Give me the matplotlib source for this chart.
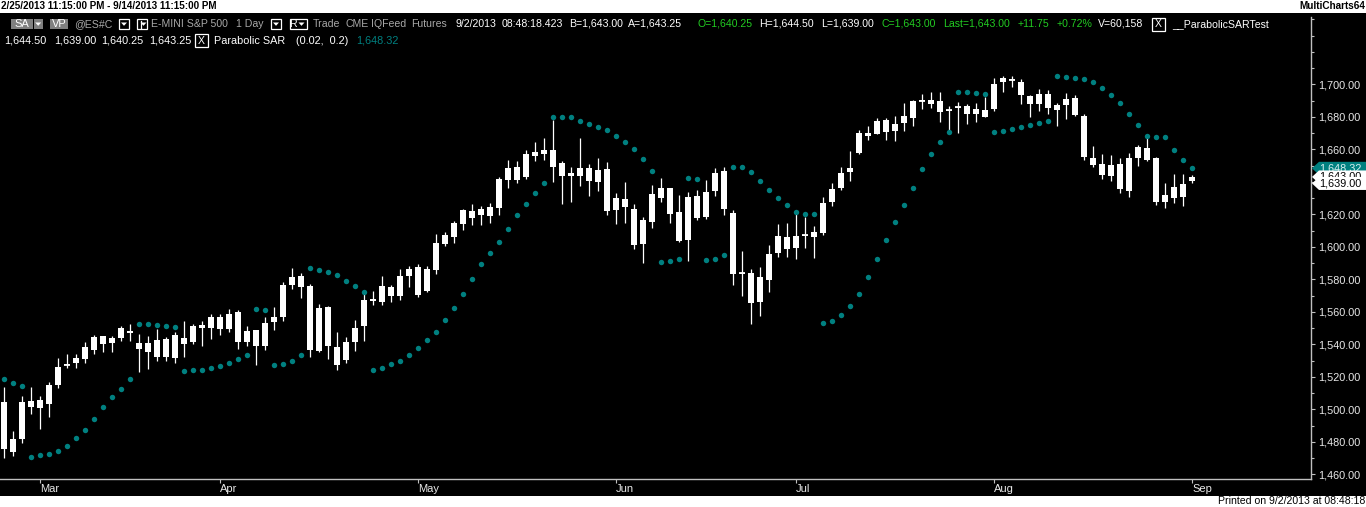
import matplotlib
matplotlib.use('Agg')
import matplotlib.pyplot as plt
from matplotlib.patches import Rectangle, Polygon
from matplotlib.ticker import MultipleLocator, FuncFormatter

plt.rcParams['font.family'] = ['Liberation Sans', 'DejaVu Sans']

# daily bars, 2/25/2013 .. 9/2/2013
opens = [1504.5, 1473.75, 1481.75, 1505.0, 1501.0, 1503.5, 1515.0, 1527.25, 1528.75, 1531.0,
         1536.75, 1545.0, 1540.75, 1544.0, 1548.25, 1541.0, 1535.5, 1542.75, 1532.5, 1545.75,
         1540.5, 1541.5, 1552.0, 1550.0, 1556.75, 1549.5, 1560.0, 1541.5, 1548.75, 1539.25,
         1553.75, 1556.75, 1576.75, 1582.0, 1576.0, 1536.0, 1563.0, 1538.5, 1530.5, 1541.5,
         1551.0, 1567.5, 1566.25, 1575.25, 1569.75, 1582.25, 1587.5, 1573.0, 1586.0, 1601.75,
         1606.0, 1614.0, 1622.0, 1619.5, 1624.5, 1624.0, 1641.0, 1649.0, 1643.0, 1656.0,
         1657.0, 1659.5, 1651.5, 1643.5, 1643.5, 1648.5, 1640.0, 1648.0, 1622.75, 1629.5,
         1623.25, 1601.75, 1615.25, 1630.0, 1636.25, 1621.5, 1604.25, 1631.25, 1618.25, 1634.25,
         1646.75, 1620.75, 1583.5, 1584.0, 1566.0, 1579.5, 1596.25, 1606.0, 1599.25, 1606.75,
         1606.0, 1608.5, 1627.5, 1636.25, 1646.0, 1657.75, 1670.25, 1669.5, 1678.0, 1671.25,
         1676.25, 1679.25, 1689.75, 1690.5, 1689.75, 1683.75, 1685.75, 1686.75, 1681.75, 1684.25,
         1684.75, 1701.5, 1703.0, 1701.5, 1692.75, 1688.0, 1694.0, 1684.25, 1687.25, 1691.5,
         1680.5, 1654.75, 1651.0, 1643.5, 1651.0, 1634.5, 1654.75, 1660.75, 1654.75, 1627.5,
         1630.0, 1638.75, 1640.25]
highs = [1514.0, 1486.75, 1508.25, 1513.75, 1508.25, 1516.75, 1531.5, 1534.0, 1534.0, 1541.5,
         1545.75, 1545.25, 1545.0, 1551.25, 1552.5, 1546.5, 1545.0, 1549.5, 1544.5, 1547.5,
         1554.5, 1552.5, 1554.5, 1558.75, 1558.75, 1561.75, 1561.0, 1551.25, 1548.75, 1556.75,
         1563.0, 1578.5, 1587.0, 1583.75, 1577.0, 1564.75, 1563.5, 1547.5, 1544.5, 1555.0,
         1571.0, 1572.75, 1582.0, 1576.5, 1586.5, 1588.25, 1589.5, 1588.25, 1608.0, 1609.0,
         1616.0, 1623.25, 1626.5, 1625.0, 1627.0, 1643.25, 1653.5, 1652.75, 1659.5, 1664.5,
         1667.0, 1678.0, 1652.75, 1649.0, 1667.0, 1651.0, 1654.75, 1652.25, 1633.0, 1640.0,
         1626.5, 1618.5, 1638.0, 1642.5, 1636.25, 1632.0, 1633.75, 1635.0, 1641.0, 1648.5,
         1649.0, 1622.75, 1597.5, 1586.5, 1587.5, 1601.0, 1614.0, 1614.75, 1620.25, 1618.5,
         1612.75, 1630.75, 1639.25, 1649.0, 1659.0, 1672.0, 1674.5, 1679.25, 1679.25, 1680.5,
         1688.5, 1690.5, 1694.0, 1695.25, 1695.25, 1686.75, 1689.0, 1688.0, 1688.5, 1692.25,
         1704.0, 1705.0, 1705.0, 1703.25, 1693.5, 1697.0, 1696.5, 1688.5, 1694.75, 1693.5,
         1681.75, 1662.0, 1657.0, 1656.5, 1654.75, 1657.75, 1662.75, 1667.0, 1655.25, 1639.25,
         1644.75, 1644.75, 1644.5]
lows = [1470.25, 1471.5, 1479.0, 1497.25, 1488.0, 1495.5, 1513.25, 1525.5, 1525.5, 1528.75,
        1533.75, 1535.0, 1535.5, 1542.25, 1542.25, 1523.25, 1525.0, 1530.0, 1530.0, 1528.75,
        1532.5, 1540.5, 1539.25, 1543.25, 1545.75, 1547.5, 1537.25, 1539.25, 1527.0, 1536.75,
        1548.75, 1554.5, 1574.25, 1568.75, 1532.5, 1535.5, 1531.25, 1524.5, 1528.75, 1536.0,
        1542.25, 1564.5, 1564.5, 1566.25, 1567.5, 1575.0, 1569.25, 1572.25, 1583.0, 1600.75,
        1602.5, 1610.5, 1613.5, 1613.5, 1614.75, 1619.5, 1636.25, 1639.5, 1641.75, 1652.75,
        1653.5, 1640.0, 1626.5, 1627.5, 1637.5, 1631.25, 1634.5, 1619.5, 1614.0, 1614.75,
        1598.75, 1590.0, 1611.5, 1627.5, 1614.75, 1603.0, 1591.25, 1616.5, 1617.0, 1631.25,
        1619.5, 1576.5, 1569.75, 1552.5, 1557.5, 1572.25, 1593.75, 1593.75, 1592.5, 1599.25,
        1593.0, 1607.25, 1625.0, 1635.0, 1640.5, 1657.0, 1665.75, 1669.5, 1665.75, 1665.0,
        1671.25, 1674.5, 1684.75, 1685.5, 1676.75, 1672.0, 1670.0, 1675.5, 1676.75, 1680.0,
        1683.5, 1695.25, 1698.5, 1688.0, 1680.0, 1683.5, 1681.75, 1674.5, 1678.75, 1680.5,
        1653.5, 1649.0, 1641.75, 1640.5, 1633.0, 1630.75, 1649.75, 1652.75, 1625.75, 1624.0,
        1627.0, 1625.0, 1639.0]
closes = [1475.75, 1481.75, 1504.5, 1501.5, 1505.75, 1515.0, 1526.0, 1527.75, 1531.5, 1538.5,
          1544.5, 1540.5, 1544.0, 1550.0, 1547.25, 1537.25, 1541.0, 1532.5, 1543.25, 1531.75,
          1544.0, 1551.25, 1550.0, 1556.75, 1549.5, 1558.75, 1541.5, 1548.25, 1539.25, 1553.0,
          1556.75, 1576.5, 1581.5, 1575.5, 1536.75, 1562.5, 1539.25, 1527.5, 1541.5, 1550.0,
          1567.25, 1567.0, 1576.0, 1569.75, 1582.0, 1586.5, 1570.5, 1586.5, 1602.5, 1607.25,
          1614.75, 1622.75, 1617.75, 1623.25, 1619.0, 1641.75, 1648.5, 1641.0, 1657.0, 1658.5,
          1659.5, 1649.0, 1643.5, 1645.5, 1648.5, 1640.5, 1647.25, 1622.0, 1630.0, 1624.5,
          1601.0, 1616.5, 1632.5, 1636.25, 1620.25, 1603.5, 1630.75, 1617.75, 1633.75, 1645.5,
          1623.25, 1583.25, 1584.0, 1565.5, 1581.5, 1595.5, 1606.75, 1598.75, 1606.75, 1607.25,
          1609.0, 1627.0, 1635.5, 1645.5, 1648.5, 1670.0, 1668.25, 1677.5, 1670.75, 1675.5,
          1680.5, 1689.75, 1690.25, 1688.0, 1683.0, 1684.25, 1686.25, 1681.75, 1684.75, 1680.0,
          1700.25, 1704.0, 1702.5, 1693.5, 1688.0, 1694.0, 1685.5, 1687.25, 1691.0, 1681.0,
          1655.25, 1650.5, 1644.25, 1650.5, 1635.5, 1654.75, 1661.5, 1653.5, 1627.5, 1632.0,
          1636.75, 1630.75, 1643.0]
sar = [1518.75, 1516.0, 1514.25, 1470.5, 1471.75, 1472.25, 1474.25, 1477.25, 1482.25, 1487.0,
       1493.75, 1501.25, 1507.5, 1512.25, 1518.5, 1552.25, 1552.25, 1551.75, 1551.0, 1550.5,
       1523.5, 1524.0, 1524.5, 1525.25, 1526.5, 1528.25, 1530.75, 1533.25, 1561.5, 1561.0,
       1527.0, 1527.75, 1529.5, 1533.25, 1586.75, 1585.5, 1584.25, 1582.5, 1578.75, 1575.75,
       1572.5, 1524.5, 1525.25, 1527.75, 1529.75, 1533.5, 1537.75, 1542.75, 1547.5, 1555.0,
       1562.25, 1570.75, 1580.0, 1589.25, 1596.5, 1602.75, 1610.75, 1619.5, 1626.25, 1633.0,
       1639.0, 1679.75, 1679.75, 1679.75, 1677.25, 1675.5, 1673.5, 1671.75, 1668.5, 1664.25,
       1660.0, 1654.0, 1646.5, 1590.5, 1591.0, 1592.25, 1642.25, 1641.5, 1591.75, 1592.25,
       1594.75, 1649.0, 1649.0, 1645.75, 1640.25, 1634.75, 1629.75, 1625.5, 1621.25, 1620.0,
       1620.0, 1553.0, 1554.25, 1557.75, 1563.5, 1570.75, 1581.25, 1592.25, 1604.5, 1615.0,
       1625.5, 1636.5, 1647.75, 1657.0, 1664.25, 1670.5, 1695.0, 1695.0, 1694.5, 1693.75,
       1670.5, 1671.0, 1672.25, 1673.5, 1674.75, 1676.0, 1677.25, 1705.0, 1704.25, 1703.75,
       1703.0, 1701.25, 1698.0, 1693.25, 1688.25, 1681.5, 1674.75, 1668.5, 1667.5, 1667.5,
       1659.5, 1653.25, 1648.32]

month_pos = [4, 24, 46, 68, 88, 110, 132]
month_labels = ['Mar', 'Apr', 'May', 'Jun', 'Jul', 'Aug', 'Sep']
price_ticks = list(range(1460, 1701, 20))

last_sar = 1648.32
last_close = 1643.00
last_low = 1639.00

TEAL = '#008080'
GREEN = '#22cc22'
GREY = '#a8a8a8'
LINE = '#c0c0c0'

W, H = 1366, 507
fig = plt.figure(figsize=(W / 100, H / 100), dpi=100, facecolor='black')

top_px, bot_px, right_px = 17, 478.7, 1311
ax = fig.add_axes([0, (H - bot_px) / H, right_px / W, (bot_px - top_px) / H])
ax.set_facecolor('black')
ax.set_xlim(-4 / 9, (right_px - 4) / 9)
ax.set_ylim(1700 - (bot_px - 84.33) / 1.625, 1700 + (84.33 - top_px) / 1.625)

n = len(closes)
xs = list(range(n))
ax.vlines(xs, lows, highs, colors='white', lw=0.9, zorder=2)
bh = [max(abs(c - o), 0.7) for o, c in zip(opens, closes)]
bb = [(o + c) / 2 - h / 2 for o, c, h in zip(opens, closes, bh)]
ax.bar(xs, bh, bottom=bb, width=0.56, color='white', lw=0, zorder=3)
doji = [i for i in xs if abs(closes[i] - opens[i]) < 0.75]
ax.hlines([(opens[i] + closes[i]) / 2 for i in doji], [i - 0.38 for i in doji],
          [i + 0.38 for i in doji], colors='white', lw=1.3, zorder=3)
ax.plot(xs, sar, ls='none', marker='o', ms=3.9, color=TEAL, mew=0, zorder=4)

# right price scale
ax.yaxis.tick_right()
ax.set_yticks(price_ticks)
ax.yaxis.set_major_formatter(FuncFormatter(lambda v, p: f'{v:,.2f}'))
ax.yaxis.set_minor_locator(MultipleLocator(10))
ax.tick_params(axis='y', which='major', length=3, width=0.8, color=LINE,
               labelcolor='#e8e8e8', labelsize=7.8, pad=2.5)
ax.tick_params(axis='y', which='minor', length=2, width=0.8, color=LINE)

# month scale
ax.set_xticks(month_pos)
ax.set_xticklabels(month_labels, ha='left')
ax.tick_params(axis='x', length=3, width=0.8, color=LINE, labelcolor='#e8e8e8',
               labelsize=8, pad=0.5)

for s in ['top', 'left']:
    ax.spines[s].set_visible(False)
for s in ['bottom', 'right']:
    ax.spines[s].set_color(LINE)
    ax.spines[s].set_linewidth(1)

# overlay in pixel coordinates for header, footer, price tags
ov = fig.add_axes([0, 0, 1, 1], zorder=10)
ov.set_xlim(0, W)
ov.set_ylim(H, 0)
ov.axis('off')
ov.patch.set_alpha(0)

ov.add_patch(Rectangle((0, 0), W, 12.7, fc='white', lw=0))
ov.add_patch(Rectangle((0, 496), W, 11, fc='white', lw=0))
ov.text(1, 6.3, '2/25/2013 11:15:00 PM - 9/14/2013 11:15:00 PM', fontsize=7.1,
        fontweight='bold', color='black', va='center')
ov.text(1365, 6.3, 'MultiCharts64', fontsize=7.2, fontweight='bold', color='black',
        va='center', ha='right')
ov.text(1365, 501.5, 'Printed on 9/2/2013 at 08:48:18', fontsize=7.6, color='black',
        va='center', ha='right')


def arrow(cx, cy, col='white'):
    ov.add_patch(Polygon([(cx - 3, cy - 1.5), (cx + 3, cy - 1.5), (cx, cy + 1.8)],
                         closed=True, fc=col, lw=0))


def box(x0, x1, y0=19, y1=29.3):
    ov.add_patch(Rectangle((x0, y0), x1 - x0, y1 - y0, fc='black', ec='white', lw=0.9))


r1, r2 = 24, 40.5
fs = 7.6
ov.add_patch(Rectangle((11, 19), 21.7, 10.3, fc='#808080', lw=0))
ov.text(21.8, r1, 'SA', fontsize=8, color='white', va='center', ha='center')
ov.add_patch(Rectangle((33.7, 19), 9, 10.3, fc='#808080', lw=0))
arrow(38.2, 24)
ov.add_patch(Rectangle((50, 19), 18, 10.3, fc='#808080', lw=0))
ov.text(59, r1, 'VP', fontsize=8, color='white', va='center', ha='center')
ov.text(74, r1, '@ES#C', fontsize=fs, color=GREY, va='center')
box(119, 129)
arrow(124, 24)
box(137, 147)
ov.plot([140.5, 140.5], [21, 27.5], color='white', lw=0.9)
arrow(143.5, 24)
box(271, 281)
arrow(276, 24)
box(290, 307)
ov.text(297, r1, 'R', fontsize=fs, color='white', va='center', ha='right')
arrow(301.5, 24)

row1 = [(151, 'E-MINI S&P 500', GREY), (236, '1 Day', GREY), (313, 'Trade', GREY),
        (345, 'CME', GREY), (371, 'IQFeed', GREY), (411, 'Futures', GREY),
        (455, '9/2/2013', 'white'), (502, '08:48:18.423', 'white'),
        (569, 'B=1,643.00', 'white'), (628, 'A=1,643.25', 'white'),
        (698, 'O=1,640.25', GREEN), (759, 'H=1,644.50', 'white'),
        (821, 'L=1,639.00', 'white'), (881, 'C=1,643.00', GREEN),
        (943, 'Last=1,643.00', GREEN), (1018, '+11.75', GREEN), (1057, '+0.72%', GREEN),
        (1098, 'V=60,158', 'white'), (1172, '__ParabolicSARTest', 'white')]
for xp, t, c in row1:
    ov.text(xp, r1, t, fontsize=fs, color=c, va='center')
box(1152, 1165, 18, 30.5)
ov.text(1158.5, r1, 'X', fontsize=7.5, color='white', va='center', ha='center')

row2 = [(4, '1,644.50', 'white'), (54, '1,639.00', 'white'), (101, '1,640.25', 'white'),
        (149, '1,643.25', 'white'), (214, 'Parabolic SAR', 'white'),
        (296, '(0.02,  0.2)', 'white'), (356, f'{last_sar:,.2f}', TEAL)]
for xp, t, c in row2:
    ov.text(xp, r2, t, fontsize=7.8, color=c, va='center')
box(195, 208, 34, 47)
ov.text(201.5, r2, 'X', fontsize=7.5, color='white', va='center', ha='center')


def ypix(price):
    return H - ax.transData.transform((0, price))[1]


def tag(price, fc, tc, z):
    y = ypix(price)
    ov.add_patch(Polygon([(1312, y), (1319, y - 6.5), (W, y - 6.5), (W, y + 6.5),
                          (1319, y + 6.5)], closed=True, fc=fc, lw=0, zorder=z))
    ov.text(1319, y, f'{price:,.2f}', fontsize=7.8, color=tc, va='center', zorder=z + 1)


# later tags sit on top of earlier ones, as in the platform
tag(last_sar, TEAL, '#d8f0f0', 5)
tag(last_close, 'white', 'black', 7)
tag(last_low, 'white', 'black', 9)

fig.savefig('out.png', dpi=100, facecolor='black')
